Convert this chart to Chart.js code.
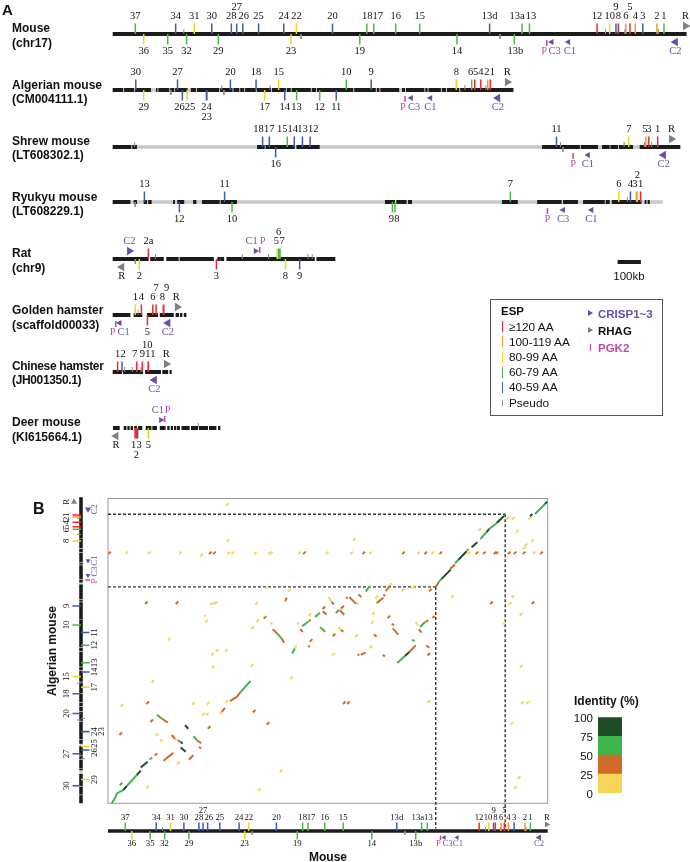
<!DOCTYPE html>
<html>
<head>
<meta charset="utf-8">
<script src="https://cdn.jsdelivr.net/npm/chart.js@4"></script>
<style>
  html, body { margin: 0; padding: 0; background: #fff; }
  #page { position: relative; width: 690px; height: 862px; overflow: hidden; font-family: "Liberation Sans", Arial, sans-serif; color: #111; }
  #page canvas { position: absolute; }
  .t { position: absolute; white-space: nowrap; transform: translateY(-50%); }
  .name { font-weight: bold; font-size: 12px; line-height: 14.5px; transform: none; }
  .tri { position: absolute; width: 0; height: 0; border-top: 3.5px solid transparent; border-bottom: 3.5px solid transparent; border-left: 5px solid #6a4fa8; }
</style>
</head>
<body>
<div id="page"></div>
<script>
// gene rows: [label, position kb, strand side, length class]  (class x = pseudogene)
const mouseGenes = [
  ["37",97,1,"g"],["36",133,-1,"y"],["35",236,-1,"g"],["34",270,1,"b"],["",305,1,"x"],["32",317,-1,"g"],
  ["31",350,1,"y"],["30",425,1,"b"],["29",453,-1,"g"],["28",509,1,"b"],["27",532,1,"b"],["26",558,1,"b"],
  ["25",626,1,"b"],["24",734,1,"b"],["23",765,-1,"y"],["22",788,1,"y"],["",808,-1,"x"],["20",943,1,"b"],
  ["19",1060,-1,"g"],["18",1090,1,"g"],["17",1120,1,"g"],["16",1214,1,"g"],["15",1317,1,"g"],["14",1477,-1,"g"],
  ["13d",1617,1,"b"],["",1662,-1,"x"],["13b",1723,-1,"g"],["13a",1756,1,"g"],["13",1788,1,"g"],
  ["12",2078,1,"r"],["",2114,1,"x"],["10",2132,1,"y"],["9",2159,1,"b"],["8",2169,1,"r"],["",2197,1,"x"],["6",2201,1,"o"],
  ["5",2219,1,"r"],["4",2242,1,"o"],["3",2274,1,"b"],["2",2335,1,"o"],["",2342,1,"x"],["1",2365,1,"g"]
];
const algerianGenes = [
  ["30",99,1,"b"],["29",133,-1,"y"],["",250,-1,"x"],["27",278,1,"b"],["26",299,-1,"b"],["25",319,-1,"y"],
  ["24",402,-1,"b"],["23",404,-1,"b"],["",468,1,"x"],["",477,-1,"x"],["20",505,1,"b"],["18",615,1,"b"],
  ["17",652,-1,"y"],["",675,1,"x"],["15",712,1,"y"],["14",738,-1,"b"],["13",789,-1,"g"],["12",888,-1,"g"],
  ["11",959,-1,"b"],["10",1002,1,"g"],["9",1109,1,"b"],["8",1474,1,"y"],["",1511,1,"x"],["6",1540,1,"g"],
  ["5",1553,1,"r"],["4",1579,1,"r"],["",1601,1,"x"],["2",1609,1,"o"],["1",1620,1,"r"]
];
const shrewGenes = [
  ["",94,1,"x"],["18",643,1,"b"],["17",672,1,"b"],["16",699,-1,"b"],["15",749,1,"g"],["14",779,1,"b"],
  ["13",814,1,"b"],["12",847,1,"b"],["11",1904,1,"b"],["",1921,1,"x"],["",1932,-1,"x"],["",2194,1,"x"],
  ["7",2214,1,"y"],["",2281,1,"x"],["5",2287,1,"o"],["3",2300,1,"r"],["",2312,1,"x"],["1",2338,1,"r"]
];
const ryukyuGenes = [
  ["",96,-1,"x"],["13",136,1,"b"],["12",286,-1,"b"],["11",480,1,"b"],["10",512,-1,"g"],["9",1200,-1,"g"],
  ["8",1211,-1,"g"],["7",1706,1,"g"],["6",2171,1,"y"],["",2208,1,"x"],["4",2221,1,"b"],["3",2247,1,"o"],
  ["2",2251,1,"y"],["1",2265,1,"r"]
];
const ratGenes = [
  ["",97,-1,"x"],["2",114,-1,"y"],["2a",153,1,"r"],["",183,1,"x"],["3",445,-1,"r"],["",556,1,"x"],["",669,1,"x"],
  ["5",706,1,"y"],["6",712,1,"g"],["7",718,1,"g"],["8",741,-1,"y"],["9",802,-1,"b"],["",838,1,"x"],["",856,1,"x"]
];
const goldenGenes = [
  ["1",97,1,"y"],["",109,1,"x"],["4",123,1,"r"],["5",149,-1,"r"],["6",172,1,"r"],["7",186,1,"r"],
  ["8",217,1,"r"],["9",219,1,"r"]
];
const chineseGenes = [
  ["1",21,1,"r"],["2",40,1,"b"],["",51,1,"x"],["",84,1,"x"],["7",103,1,"r"],["",122,1,"x"],["9",127,1,"r"],
  ["10",152,1,"r"],["11",153,1,"r"]
];
const deerGenes = [
  ["1",96,-1,"r"],["2",102,-1,"r"],["3",107,-1,"b"],["5",153,-1,"y"],["",367,1,"x"]
];

// other loci: [name, position kb, side, direction]  (direction 0 = PGK2 bar)
const mouseLoci = [["P",1862,-1,0],["C3",1883,-1,-1],["C1",1955,-1,-1],["C2",2414,-1,-1],["R",2457,1,1]];
const algerianLoci = [["P",1254,-1,0],["C3",1280,-1,-1],["C1",1363,-1,-1],["C2",1652,-1,-1],["R",1693,1,1]];
const shrewLoci = [["P",1975,-1,0],["C1",2039,-1,-1],["C2",2363,-1,-1],["R",2397,1,1]];
const ryukyuLoci = [["P",1865,-1,0],["C3",1932,-1,-1],["C1",2054,-1,-1]];
const ratLoci = [["C2",72,1,1],["R",39,-1,-1],["C1",613,1,1],["P",631,1,0]];
const goldenLoci = [["P",13,-1,0],["C1",30,-1,-1],["C2",237,-1,-1],["R",277,1,1]];
const chineseLoci = [["C2",179,-1,-1],["R",230,1,1]];
const deerLoci = [["R",14,-1,-1],["C1",207,1,1],["P",223,1,0]];

// assembled contigs, kb
const mouseContigs = [[0,2462]];
const algerianContigs = [[0,45],[49,92],[96,164],[186,192],[196,243],[247,264],[268,321],[335,357],[361,457],[461,514],[518,543],[547,564],[568,614],[618,679],[683,743],[747,764],[768,850],[854,872],[876,1032],[1036,1129],[1133,1144],[1148,1229],[1241,1254],[1258,1337],[1341,1351],[1355,1408],[1412,1430],[1434,1487],[1491,1719]];
const shrewContigs = [[0,80],[84,104],[619,652],[656,781],[788,888],[1842,2004],[2008,2082],[2099,2132],[2135,2168],[2172,2232],[2261,2435]];
const ryukyuContigs = [[0,76],[90,104],[133,147],[152,167],[259,267],[277,307],[345,359],[383,459],[463,533],[1168,1211],[1217,1261],[1267,1284],[1670,1738],[1821,1926],[1932,1996],[2018,2111],[2115,2132],[2141,2268],[2282,2290],[2295,2304]];
const ratContigs = [[0,154],[161,219],[230,283],[287,434],[449,460],[461,478],[488,867],[874,955]];
const goldenContigs = [[0,76],[90,127],[147,194],[202,262],[270,285],[289,299],[305,316]];
const chineseContigs = [[0,40],[44,130],[139,207],[213,238],[244,253]];
const deerContigs = [[1,30],[47,59],[63,73],[77,87],[92,104],[109,127],[142,166],[170,190],[202,227],[234,244],[249,259],[263,273],[276,288],[295,330],[336,366],[370,409],[413,445],[452,462]];
const trackLengths = { mouse: 2462, algerian: 1719, shrew: 2435, ryukyu: 2361, rat: 955, golden: 316, chinese: 253, deer: 462 };
const scaleBarKb = [[0,100]];

// dot plot: aligned segments [mouse kb, algerian kb, mouse kb, algerian kb]
const seg0to25 = [
  [911,1015,920,1003],[1060,1015,1066,1002],[881,1203,892,1213],[540,1058,547,1048],[1463,1216,1471,1224],[1579,1222,1588,1235],
  [1389,1123,1404,1119],[1234,1157,1252,1129],[1290,988,1303,974],[1723,1017,1736,998],[1046,868,1057,886],[637,513,627,500],
  [375,362,383,354],[291,360,304,347],[385,220,403,233]
];
const seg25to50 = [
  [991,1134,1001,1153],[1202,1089,1215,1104],[922,977,954,946],[973,923,986,901],[1077,977,1090,961],[1124,1022,1135,1030],
  [1206,974,1215,962],[1122,886,1128,875],[1835,1213,1855,1246],[1915,1315,1943,1340],[2008,1418,2020,1425],[1555,1190,1579,1222],
  [1504,1123,1542,1153],[1542,1171,1551,1162],[1402,1171,1419,1157],[1333,1157,1342,1149],[1351,1157,1389,1119],[1252,1129,1265,1117],
  [1202,1078,1224,1059],[1303,1091,1321,1108],[1299,1082,1323,1058],[1303,974,1318,962],[1588,1007,1603,1000],[1594,981,1626,946],
  [1489,949,1504,934],[1777,1017,1794,1026],[1740,977,1756,957],[1816,1041,1831,1050],[1687,849,1723,886],[1781,886,1799,873],
  [1398,836,1407,830],[1415,834,1443,845],[1538,832,1551,825],[743,625,721,597],[721,597,683,573],[655,535,637,513],[301,476,334,453],
  [357,384,375,362],[390,354,407,343],[497,354,521,338],[510,317,521,308],[478,270,454,246],[261,270,276,278],[310,239,366,283]
];
const seg50to75 = [
  [954,946,973,923],[1088,994,1122,1020],[1159,1045,1187,1069],[1187,988,1206,974],[1855,1246,1868,1259],[1943,1347,1962,1366],
  [2085,1483,2120,1521],[2134,1539,2176,1571],[2391,1623,2447,1679],[1443,1188,1463,1216],[1275,1067,1295,1086],[1747,989,1775,1017],
  [1704,919,1715,908],[1620,787,1663,827],[1031,840,1046,868],[799,687,743,625],[274,496,301,476],[480,377,497,354],
  [21,0,39,28],[39,28,49,56],[49,56,86,74],[105,97,161,158],[232,246,248,257]
];
const seg75to100 = [
  [1868,1259,1919,1311],[1962,1366,2008,1414],[2036,1437,2068,1465],[2120,1521,2134,1539],[2176,1573,2217,1612],[2363,1610,2376,1623],
  [2447,1679,2458,1692],[1663,827,1687,849],[431,438,450,418],[407,343,418,336],[407,313,435,289],[86,74,105,97],[161,158,183,183],[183,201,222,233]
];
// short hits: [mouse kb, algerian kb]
const dot0to25 = [
  [668,1676],[672,1474],[105,1405],[232,1405],[405,1405],[523,1392],[676,1405],[698,1405],[825,1405],[905,1405],[915,1405],[1072,1405],[1227,1405],
  [579,1119],[596,1123],[605,1125],[831,1121],[838,1024],[810,985],[342,921],[1016,1194],[551,1022],[1130,1058],
  [1364,1405],[1469,1405],[1738,1405],[1818,1405],[1379,1480],[2022,1405],[2238,1599],[2270,1599],[2363,1599],[2292,1526],[2083,1537],[2376,1474],
  [2341,1450],[2331,1433],[2386,1405],[1504,1157],[1928,1160],[2266,1160],[2251,1121],[2313,1061],[2219,1011],[1486,1065],[1480,1015],[1652,1198],
  [1392,940],[1473,877],[1710,1213],[1262,836],[2313,769],[1796,571],[2320,564],[2350,564],[2261,446],[2302,145],[2281,87],
  [665,571],[1027,704],[807,774],[586,836],[612,858],[663,858],[588,765],[250,685],[78,550],[478,560],[560,560],[534,500],[556,500],[273,384],
  [969,181],[848,78],[222,93]
];
const dot25to50 = [
  [9,1405],[573,1405],[596,1405],[1100,1405],[215,1125],[386,1125],[1137,914],[879,1043],
  [1432,1405],[1654,1405],[1779,1405],[1863,1405],[2066,1405],[2107,1405],[2167,1405],[2177,1405],[2246,1405],[2279,1405],[2330,1405],[2427,1405],
  [2147,1125],[2380,1125],[1805,1196],[1573,1046],[1265,944],[1796,836],[1323,564],[1346,564],[818,517],[896,448],[222,564],[566,425],[245,463],[71,390]
];
const dot50to75 = [[73,108]];
// dashed boxes: mouse / algerian boundaries of the syntenic block
const dashMouseKb = [1835, 2224];
const dashAlgerianKb = [1214, 1622];
const dashAxisEnd = -142;

const espLabels = ["≥120 AA","100-119 AA","80-99 AA","60-79 AA","40-59 AA","Pseudo"];
const espKeys = ["r","o","y","g","b","x"];
const identityBands = ["0-25","25-50","50-75","75-100"];
const identitySpan = [25,25,25,25];
const identityTicks = [0,25,50,75,100];

const espColor = { r:"#ee2b30", o:"#f5962a", y:"#e4dc20", g:"#4fb848", b:"#3f5cae", x:"#8c8c8c" };
const identityColor = ["#f7d558","#cf6a2a","#3cb54a","#1e4d26"];
const PURPLE = "#6a4fa8", PINK = "#c446a4", GRAY = "#808080";
const SERIF = '"Liberation Serif", "Times New Roman", serif';

const page = document.getElementById("page");

function addCanvas(left, top, w, h) {
  const c = document.createElement("canvas");
  c.width = w; c.height = h;
  c.style.left = left + "px"; c.style.top = top + "px";
  c.style.width = w + "px"; c.style.height = h + "px";
  page.appendChild(c);
  return c.getContext("2d");
}

function addText(txt, x, y, css) {
  const d = document.createElement("div");
  d.className = "t";
  d.textContent = txt;
  d.style.left = x + "px"; d.style.top = y + "px";
  if (css) d.style.cssText += css;
  page.appendChild(d);
  return d;
}

function addName(a, b, x, y, css) {
  const d = document.createElement("div");
  d.className = "t name";
  d.innerHTML = a + "<br>" + b;
  d.style.left = x + "px"; d.style.top = (y - 7) + "px";
  if (css) d.style.cssText += css;
  page.appendChild(d);
}

// one genome track = one little chart, 1 y unit = 1px
function drawTrack(o) {
  const half = 40;
  const v = !!o.vertical;
  const pt = (kb, off) => v ? { x: off, y: kb } : { x: kb, y: off };
  const gap = () => ({ x: NaN, y: NaN });
  const st = Object.assign({ tick: 10.5, short: 5, labelOff: 17.5, tierOff: 27, arrowOff: 8, barA: 6, barB: 12, font: 10.5, width: 4, tickW: 1.5, arrowBig: 4.8, arrowSmall: 3.6, nudgeK: 1 }, o.style || {});
  const datasets = [];
  const genes = o.genes || [], loci = o.loci || [];

  espKeys.forEach(k => {
    const rows = genes.filter(g => g[3] === k);
    if (!rows.length) return;
    const pts = [];
    rows.forEach(g => { pts.push(pt(g[1], 0), pt(g[1], g[2] * (k === "x" ? st.short : st.tick)), gap()); });
    datasets.push({ data: pts, showLine: true, pointRadius: 0, borderColor: espColor[k], borderWidth: k === "x" ? 1 : st.tickW });
  });

  const bars = [];
  loci.filter(l => l[3] === 0).forEach(l => { bars.push(pt(l[1], l[2] * st.barA), pt(l[1], l[2] * st.barB), gap()); });
  if (bars.length) datasets.push({ data: bars, showLine: true, pointRadius: 0, borderColor: PINK, borderWidth: st.tickW });

  const arrows = loci.filter(l => l[3] !== 0);
  if (arrows.length) {
    datasets.push({
      data: arrows.map(l => pt(l[1], l[2] * st.arrowOff)),
      showLine: false,
      pointStyle: "triangle",
      pointRadius: arrows.map(l => (l[0] === "R" || l[0] === "C2") ? st.arrowBig : st.arrowSmall),
      pointRotation: arrows.map(l => v ? (l[3] > 0 ? 0 : 180) : (l[3] > 0 ? 90 : 270)),
      pointBackgroundColor: arrows.map(l => l[0] === "R" ? GRAY : PURPLE),
      pointBorderWidth: 0
    });
  }

  const black = [];
  o.contigs.forEach(c => { black.push(pt(c[0], 0), pt(c[1], 0), gap()); });
  datasets.push({ data: black, showLine: true, pointRadius: 0, borderColor: "#1b1b1b", borderWidth: st.width });
  if (o.length) {
    datasets.push({ data: [pt(0, 0), pt(o.length, 0)], showLine: true, pointRadius: 0, borderColor: "#c9c9c9", borderWidth: st.width - 0.5 });
  }

  const labelPlugin = {
    id: "trackLabels",
    afterDatasetsDraw(chart) {
      const c = chart.ctx, sx = chart.scales.x, sy = chart.scales.y;
      c.save();
      c.font = st.font + "px " + SERIF;
      c.textAlign = "center"; c.textBaseline = "middle";
      const put = (txt, kb, side, color, name) => {
        const raised = (o.raised || []).indexOf(name) >= 0;
        const off = side * (raised ? st.tierOff : st.labelOff);
        const p = pt(kb, off);
        let px = sx.getPixelForValue(p.x), py = sy.getPixelForValue(p.y);
        const n = ((o.nudge || {})[name] || 0) * st.nudgeK;
        if (v) py -= n; else px += n;
        c.save();
        c.translate(px, py);
        if (v) c.rotate(-Math.PI / 2);
        c.fillStyle = color;
        c.fillText(txt, 0, 0);
        c.restore();
      };
      genes.forEach(g => { if (g[0]) put(g[0], g[1], g[2], "#111", g[0]); });
      loci.forEach(l => { put(l[0], l[1], l[2], l[0] === "R" ? "#111" : (l[0] === "P" ? PINK : PURPLE), l[0]); });
      c.restore();
    }
  };

  const ppk = o.pxPerKb;
  let ctx, xScale, yScale;
  if (v) {
    const top = 480, h = 340;
    ctx = addCanvas(o.x - half, top, half * 2, h);
    xScale = { type: "linear", display: false, min: -half, max: half, reverse: true };
    yScale = { type: "linear", display: false, min: (o.y - (top + h)) / ppk, max: (o.y - top) / ppk };
  } else {
    ctx = addCanvas(0, o.y - half, 690, half * 2);
    xScale = { type: "linear", display: false, min: -o.x / ppk, max: (690 - o.x) / ppk };
    yScale = { type: "linear", display: false, min: -half, max: half };
  }
  new Chart(ctx, {
    type: "scatter",
    data: { datasets: datasets },
    options: {
      responsive: false, animation: false, events: [],
      layout: { padding: 0, autoPadding: false },
      plugins: { legend: { display: false }, tooltip: { enabled: false } },
      scales: { x: xScale, y: yScale }
    },
    plugins: [labelPlugin]
  });
}

const PX_KB = 0.2331;
drawTrack({ genes: mouseGenes, loci: mouseLoci, contigs: mouseContigs, x: 112.7, y: 33.5, pxPerKb: PX_KB, raised: ["27","9","5"], nudge: { "26":1, "13a":-5, "13":1.5, "17":4, "13b":1, "18":0.5, "P":-2.5, "C3":3, "C1":1.5 } });
drawTrack({ genes: algerianGenes, loci: algerianLoci, contigs: algerianContigs, length: trackLengths.algerian, x: 112.7, y: 90, pxPerKb: PX_KB, raised: ["23"], nudge: { "26":-3, "25":3, "6":-1, "5":1, "2":-1, "1":2, "P":-2, "C3":3 } });
drawTrack({ genes: shrewGenes, loci: shrewLoci, contigs: shrewContigs, length: trackLengths.shrew, x: 112.7, y: 147, pxPerKb: PX_KB, nudge: { "18":-4, "15":-5, "14":-1.5, "12":3, "5":-1 } });
drawTrack({ genes: ryukyuGenes, loci: ryukyuLoci, contigs: ryukyuContigs, length: trackLengths.ryukyu, x: 112.7, y: 202, pxPerKb: PX_KB, raised: ["2"], nudge: { "9":-1, "8":2, "3":-1.5 }, style: { arrowBig: 4.8 } });
drawTrack({ genes: ratGenes, loci: ratLoci, contigs: ratContigs, x: 112.7, y: 258.7, pxPerKb: PX_KB, raised: ["6"], nudge: { "C1":-4, "P":3, "5":-1, "7":2 } });
drawTrack({ genes: goldenGenes, loci: goldenLoci, contigs: goldenContigs, x: 112.7, y: 315, pxPerKb: PX_KB, raised: ["7","9"], nudge: { "P":-3, "C1":4, "8":-1, "9":3, "R":-1 } });
drawTrack({ genes: chineseGenes, loci: chineseLoci, contigs: chineseContigs, x: 112.7, y: 372, pxPerKb: PX_KB, raised: ["10"], nudge: { "2":1, "7":-2, "11":2, "10":-1 } });
drawTrack({ genes: deerGenes, loci: deerLoci, contigs: deerContigs, x: 112.7, y: 428, pxPerKb: PX_KB, raised: ["2"], nudge: { "C1":-3, "P":3, "1":-1.5, "3":1.5 } });
drawTrack({ contigs: scaleBarKb, x: 617.6, y: 262, pxPerKb: PX_KB });

// dot plot panel
(function () {
  const mkSeg = rows => {
    const pts = [];
    rows.forEach(r => { pts.push({ x: r[0], y: r[1] }, { x: r[2], y: r[3] }, { x: NaN, y: NaN }); });
    return pts;
  };
  const mkDots = rows => rows.map(r => ({ x: r[0], y: r[1] }));
  const segs = [seg75to100, seg50to75, seg25to50, seg0to25];
  const dots = [[], dot50to75, dot25to50, dot0to25];
  const cols = [identityColor[3], identityColor[2], identityColor[1], identityColor[0]];
  const ds = [];
  segs.forEach((s, i) => {
    ds.push({ data: mkSeg(s), showLine: true, pointRadius: 0, borderColor: cols[i], borderWidth: 2 });
    if (dots[i].length) {
      ds.push({ data: mkDots(dots[i]), showLine: false, pointStyle: "line", pointRadius: 1.8, pointRotation: -45, pointBorderColor: cols[i], pointBorderWidth: 2 });
    }
  });
  const dash = { showLine: true, pointRadius: 0, borderColor: "#333", borderWidth: 1.4, borderDash: [3, 2], clip: false };
  dashAlgerianKb.forEach((y, i) => { ds.push(Object.assign({ data: [{ x: 0, y: y }, { x: dashMouseKb[i], y: y }] }, dash)); });
  dashMouseKb.forEach((x, i) => { ds.push(Object.assign({ data: [{ x: x, y: dashAlgerianKb[i] }, { x: x, y: dashAxisEnd }] }, dash)); });

  new Chart(addCanvas(0, 0, 690, 862), {
    type: "scatter",
    data: { datasets: ds },
    options: {
      responsive: false, animation: false, events: [],
      layout: { padding: { left: 108, right: 142.3, top: 498.5, bottom: 58.7 }, autoPadding: false },
      plugins: { legend: { display: false }, tooltip: { enabled: false } },
      scales: {
        x: { type: "linear", display: false, min: 0, max: trackLengths.mouse },
        y: { type: "linear", display: false, min: 0, max: 1710 }
      }
    },
    plugins: [{
      id: "frame",
      beforeDatasetsDraw(chart) {
        const a = chart.chartArea, c = chart.ctx;
        c.save();
        c.strokeStyle = "#9a9a9a"; c.lineWidth = 1;
        c.strokeRect(a.left, a.top, a.right - a.left, a.bottom - a.top);
        c.restore();
      }
    }]
  });
})();

const smallStyle = { tick: 8.5, short: 4, labelOff: 13, tierOff: 20, arrowOff: 6.5, barA: 4.5, barB: 9, font: 8.7, width: 3.5, arrowBig: 3.6, arrowSmall: 2.8, nudgeK: 0.75 };
drawTrack({ genes: mouseGenes, loci: mouseLoci, contigs: mouseContigs, x: 108, y: 831, pxPerKb: 439.7 / 2462, raised: ["27","9","5"], nudge: { "26":1.5, "13a":-5, "13":1.5, "17":4, "10":-1, "P":-3, "C3":4.4, "C1":1 }, style: smallStyle });
drawTrack({ genes: algerianGenes, loci: algerianLoci, contigs: algerianContigs, length: trackLengths.algerian, x: 81, y: 803.3, pxPerKb: 306 / 1719, vertical: true, raised: ["23"], nudge: { "2":-2, "6":-1, "26":-2.4, "25":3, "P":-1, "C3":4 }, style: Object.assign({}, smallStyle, { nudgeK: 1, labelOff: 14, tierOff: 21, arrowOff: 7 }) });

// text and legends
addText("A", 2, 8.5, "font-weight:bold;font-size:15px");
addText("B", 33, 509, "font-weight:bold;font-size:16px");
addName("Mouse", "(chr17)", 12, 28);
addName("Algerian mouse", "(CM004111.1)", 12, 84.7);
addName("Shrew mouse", "(LT608302.1)", 12, 140.7);
addName("Ryukyu mouse", "(LT608229.1)", 12, 196.7);
addName("Rat", "(chr9)", 12, 253.3);
addName("Golden hamster", "(scaffold00033)", 12, 310);
addName("Chinese hamster", "(JH001350.1)", 12, 365.7, "letter-spacing:-0.35px");
addName("Deer mouse", "(KI615664.1)", 12, 422.3);
addText("100kb", 629, 275.7, "font-size:11.5px;transform:translate(-50%,-50%)");
addText("Mouse", 328, 856.5, "font-weight:bold;font-size:12px;transform:translate(-50%,-50%)");
addText("Algerian mouse", 52, 651, "font-weight:bold;font-size:12px;transform:translate(-50%,-50%) rotate(-90deg)");
addText("Identity (%)", 574, 700.7, "font-weight:bold;font-size:12px");

const box = document.createElement("div");
box.style.cssText = "position:absolute;left:490px;top:298.5px;width:171px;height:115px;border:1px solid #555;box-sizing:content-box";
page.appendChild(box);
addText("ESP", 501, 311, "font-weight:bold;font-size:11.5px");
const espY = [326.7, 341.7, 357.3, 372, 387.3, 402.7];
espLabels.forEach((lab, i) => {
  addText(lab, 509, espY[i], "font-size:11.8px");
  const tall = espKeys[i] === "x" ? 6 : 11;
  const s = document.createElement("div");
  s.style.cssText = "position:absolute;left:501.5px;width:1.5px;height:" + tall + "px;top:" + (espY[i] - tall / 2) + "px;background:" + espColor[espKeys[i]];
  page.appendChild(s);
});
[["CRISP1~3", PURPLE, 313.7], ["RHAG", "#111", 330.7], ["PGK2", PINK, 347.7]].forEach((r, i) => {
  addText(r[0], 598, r[2], "font-weight:bold;font-size:11.5px;color:" + r[1]);
  const s = document.createElement("div");
  if (i < 2) {
    s.className = "tri";
    s.style.cssText = "left:588px;top:" + (r[2] - 3.5) + "px;border-left-color:" + (i === 0 ? PURPLE : GRAY);
  } else {
    s.style.cssText = "position:absolute;left:589.5px;width:1.5px;height:7px;top:" + (r[2] - 3.5) + "px;background:" + PINK;
  }
  page.appendChild(s);
});

// identity colour scale as a stacked bar
new Chart(addCanvas(555, 705, 75, 100), {
  type: "bar",
  data: {
    labels: ["Identity"],
    datasets: identityBands.map((b, i) => ({
      label: b, data: [identitySpan[i]], backgroundColor: identityColor[i],
      categoryPercentage: 1, barPercentage: 1, borderWidth: 0
    }))
  },
  options: {
    responsive: false, animation: false, events: [],
    layout: { padding: { top: 12.3, bottom: 11.7, right: 8 }, autoPadding: false },
    plugins: { legend: { display: false }, tooltip: { enabled: false } },
    scales: {
      x: { stacked: true, display: false },
      y: {
        stacked: true, min: 0, max: 100,
        afterBuildTicks(scale) { scale.ticks = identityTicks.map(v => ({ value: v })); },
        afterFit(scale) { scale.width = 43; },
        grid: { display: false, drawTicks: false },
        border: { display: false },
        ticks: { color: "#111", padding: 5, labelOffset: 1.5, font: { size: 11.5, family: '"Liberation Sans", Arial, sans-serif' } }
      }
    }
  }
});
</script>
</body>
</html>
